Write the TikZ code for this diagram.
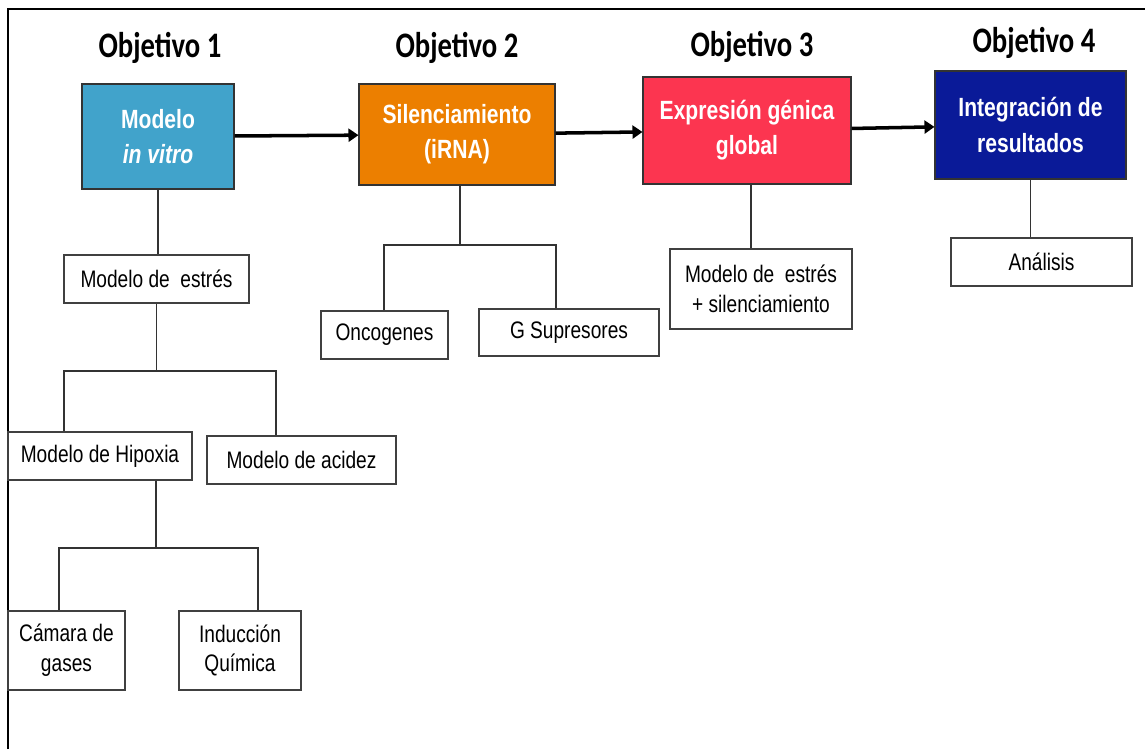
\documentclass[tikz,border=0pt]{standalone}
\usepackage{fontspec}
\setmainfont{Liberation Sans}[FakeStretch=0.8]
\newfontfamily\titlefont{Carlito}[FakeStretch=0.8]
\usetikzlibrary{arrows.meta, positioning}

\definecolor{objblue}{RGB}{65,163,203}
\definecolor{objorange}{RGB}{236,127,0}
\definecolor{objred}{RGB}{252,53,80}
\definecolor{objnavy}{RGB}{10,26,152}

\begin{document}
\begin{tikzpicture}[
    >={Triangle[length=2mm,width=2.6mm]},
    title/.style={font=\titlefont\bfseries\fontsize{20.4}{24}\selectfont},
    obj/.style={rectangle, draw=black!80, line width=0.6pt, text=white, align=center,
        inner sep=0pt, font=\bfseries\fontsize{15}{20}\selectfont},
    sub/.style={rectangle, draw=black!75, line width=0.9pt, fill=white, align=center,
        inner sep=0pt, minimum height=0.96cm, font=\fontsize{13.6}{17}\selectfont},
    link/.style={draw=black!80, line width=0.9pt},
    flow/.style={->, line width=2pt, black}
]
\useasboundingbox (0,0) rectangle (22.9,-14.98);
\draw[line width=1.1pt] (0.16,-14.98) -- (0.16,-0.18) -- (22.9,-0.18);

% Objetivos
\node (T1) at (3.2, -0.96) [title] {Objetivo 1};
\node (T2) at (9.14, -0.96) [title] {Objetivo 2};
\node (T3) at (15.04, -0.94) [title] {Objetivo 3};
\node (T4) at (20.68, -0.86) [title] {Objetivo 4};

\node (Modelo) at (3.16, -2.73) [obj, fill=objblue, minimum width=3.04cm, minimum height=2.1cm] {Modelo\\\textit{in vitro}};
\node (Silencia) at (9.14, -2.69) [obj, fill=objorange, minimum width=3.92cm, minimum height=2.02cm] {Silenciamiento\\(iRNA)};
\node (Expresion) at (14.94, -2.61) [obj, fill=objred, minimum width=4.16cm, minimum height=2.14cm] {Expresión génica\\global};
\node (Integra) at (20.61, -2.5) [obj, fill=objnavy, minimum width=3.82cm, minimum height=2.16cm] {Integración de\\resultados};

\draw[flow] (Modelo) -- (Silencia);
\draw[flow] (Silencia) -- (Expresion);
\draw[flow] (Expresion) -- (Integra);

% Objetivo 1
\node (Estres) at (3.13, -5.58) [sub, minimum width=3.7cm] {Modelo de~ estrés};
\node (Hipoxia) at (2.0, -9.12) [sub, minimum width=3.68cm] {Modelo de Hipoxia};
\node (Acidez) at (6.03, -9.2) [sub, minimum width=3.78cm] {Modelo de acidez};
\node (Camara) at (1.33, -13.01) [sub, minimum width=2.34cm, minimum height=1.58cm] {Cámara de\\gases};
\node (Induccion) at (4.8, -13.01) [sub, minimum width=2.44cm, minimum height=1.58cm] {Inducción\\Química};

\coordinate (KaL) at (1.28, -7.42);
\coordinate (KaR) at (5.52, -7.42);
\coordinate (KbS) at (3.12, -10.96);
\coordinate (KbL) at (1.18, -10.96);
\coordinate (KbR) at (5.16, -10.96);

\draw[link] (Modelo.south) -- (Modelo.south |- Estres.north);
\draw[link] (Estres.south) -- (Estres.south |- KaL);
\draw[link] (KaL |- Hipoxia.north) -- (KaL) -- (KaR) -- (KaR |- Acidez.north);
\draw[link] (KbS |- Hipoxia.south) -- (KbS);
\draw[link] (KbL |- Camara.north) -- (KbL) -- (KbR) -- (KbR |- Induccion.north);

% Objetivo 2
\node (Oncogenes) at (7.69, -6.7) [sub, minimum width=2.54cm] {Oncogenes};
\node (Supresores) at (11.38, -6.65) [sub, minimum width=3.6cm, minimum height=0.94cm] {G Supresores};

\coordinate (KcS) at (9.2, -4.9);
\coordinate (KcL) at (7.68, -4.9);
\coordinate (KcR) at (11.12, -4.9);

\draw[link] (KcS |- Silencia.south) -- (KcS);
\draw[link] (KcL |- Oncogenes.north) -- (KcL) -- (KcR) -- (KcR |- Supresores.north);

% Objetivo 3
\node (EstresSil) at (15.22, -5.78) [sub, minimum width=3.64cm, minimum height=1.6cm] {Modelo de~ estrés\\+ silenciamiento};
\draw[link] ([xshift=0.08cm]Expresion.south) -- ([xshift=0.08cm]Expresion.south |- EstresSil.north);

% Objetivo 4
\node (Analisis) at (20.83, -5.24) [sub, minimum width=3.62cm] {Análisis};
\draw[link] (Integra.south) -- (Integra.south |- Analisis.north);
\end{tikzpicture}
\end{document}
